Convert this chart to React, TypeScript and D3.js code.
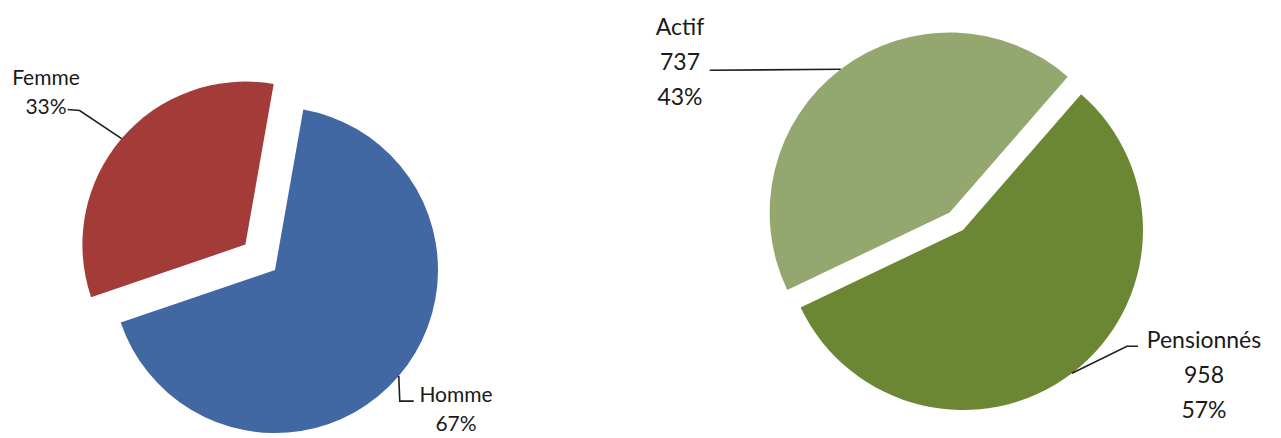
import React, { useRef, useEffect, FC } from "react";
import * as d3 from "d3";

// gender split (percent)
const genderLabels = ["Homme", "Femme"];
const genderShares = [67, 33];
const genderColors = ["#4168a3", "#a33b39"];

// status split (headcount)
const statusLabels = ["Pensionnés", "Actif"];
const statusCounts = [958, 737];
const statusColors = ["#6c8734", "#93a76f"];

const deg = Math.PI / 180;

const App: FC = () => {
  const chartRef = useRef(null);

  useEffect(() => {
    const chartContainer = d3.select(chartRef.current);
    if (!chartContainer.select("svg").empty()) {
      chartContainer.select("svg").remove();
    }

    const width = 1281;
    const height = 438;

    const svg = chartContainer
      .append("svg")
      .attr("width", width)
      .attr("height", height)
      .style("position", "absolute")
      .style("left", 0)
      .style("top", 0)
      .style("font-family", "Lato, 'Noto Sans', sans-serif");

    svg.append("rect").attr("width", width).attr("height", height).attr("fill", "#ffffff");

    // edge point of a slice at its mid angle
    const edgePoint = (d: any, r: number) => {
      const a = (d.startAngle + d.endAngle) / 2;
      return [Math.sin(a) * r, -Math.cos(a) * r];
    };

    const drawPie = (opts: {
      values: number[];
      colors: string[];
      cx: number;
      cy: number;
      r: number;
      start: number;
      explode: number[];
      labels: (i: number, pct: number) => string[];
      labelPos: [number, number][];
      leaders: ((p: number[]) => [number, number][])[];
      fontSize: number;
      lineGap: number;
    }) => {
      const total = d3.sum(opts.values);
      const pie = d3
        .pie<number>()
        .sort(null)
        .startAngle(opts.start * deg)
        .endAngle((opts.start + 360) * deg);
      const arcs = pie(opts.values);
      const arc = d3.arc<any>().innerRadius(0).outerRadius(opts.r);

      const g = svg.append("g").attr("transform", `translate(${opts.cx}, ${opts.cy})`);

      arcs.forEach((d, i) => {
        const mid = (d.startAngle + d.endAngle) / 2;
        const dx = Math.sin(mid) * opts.explode[i];
        const dy = -Math.cos(mid) * opts.explode[i];

        const sg = g.append("g").attr("transform", `translate(${dx}, ${dy})`);
        sg.append("path").attr("d", arc(d)).attr("fill", opts.colors[i]);

        // leader line
        const p = edgePoint(d, opts.r);
        const pts: [number, number][] = [[p[0], p[1]], ...opts.leaders[i](p)];
        sg.append("path")
          .attr("d", d3.line()(pts as any))
          .attr("fill", "none")
          .attr("stroke", "#1e1e1e")
          .attr("stroke-width", 1.6);

        // labels
        const pct = Math.round((d.data / total) * 100);
        const lines = opts.labels(i, pct);
        const text = svg
          .append("text")
          .attr("x", opts.labelPos[i][0])
          .attr("y", opts.labelPos[i][1])
          .attr("text-anchor", "middle")
          .attr("font-size", opts.fontSize)
          .attr("fill", "#1a1a1a");
        lines.forEach((l, k) => {
          text
            .append("tspan")
            .attr("x", opts.labelPos[i][0])
            .attr("dy", k === 0 ? 0 : opts.lineGap)
            .text(l);
        });
      });
    };

    // left pie: gender
    drawPie({
      values: genderShares,
      colors: genderColors,
      cx: 275,
      cy: 270,
      r: 163,
      start: 10,
      explode: [0, 39],
      labels: (i, pct) => [genderLabels[i], `${pct}%`],
      labelPos: [
        [456, 402],
        [46, 85],
      ],
      leaders: [
        (p) => [
          [p[0] + 1, p[1] + 25],
          [p[0] + 15, p[1] + 25],
        ],
        (p) => [
          [p[0] - 42, p[1] - 28],
          [p[0] - 54, p[1] - 29],
        ],
      ],
      fontSize: 21,
      lineGap: 29,
    });

    // right pie: status
    drawPie({
      values: statusCounts,
      colors: statusColors,
      cx: 963,
      cy: 230,
      r: 180,
      start: 41,
      explode: [0, 22],
      labels: (i, pct) => [statusLabels[i], `${statusCounts[i]}`, `${pct}%`],
      labelPos: [
        [1204, 348],
        [680, 35],
      ],
      leaders: [
        (p) => [
          [p[0] + 55, p[1] - 27],
          [p[0] + 66, p[1] - 27],
        ],
        (p) => [[p[0] - 131, p[1] + 1]],
      ],
      fontSize: 23,
      lineGap: 35,
    });
  }, []);

  return <div ref={chartRef} />;
};

export default App;
